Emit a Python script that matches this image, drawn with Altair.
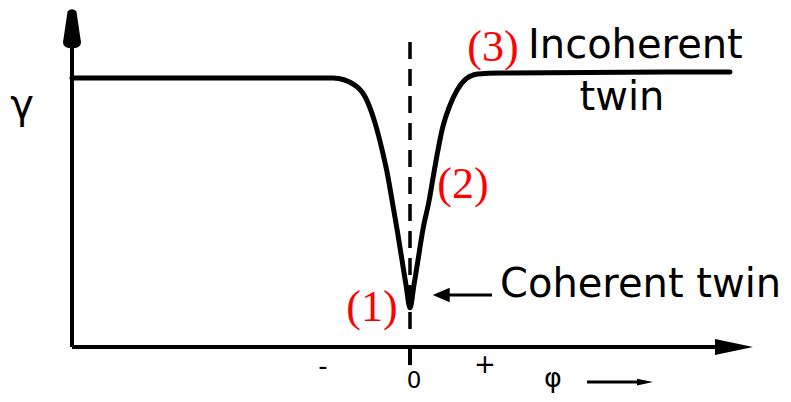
import altair as alt
import pandas as pd

# ---- data (schematic) ----
curve_phi = [-4.225, -0.96, -0.69, -0.56, -0.44, -0.34, -0.275, -0.225, -0.16, -0.1, -0.05, 0.0,
             0.05, 0.1, 0.16, 0.24, 0.29, 0.35, 0.41, 0.5, 0.59, 0.7, 0.85, 1.125, 4.0]
curve_gamma = [0.996, 0.996, 0.97, 0.926, 0.833, 0.719, 0.63, 0.544, 0.433, 0.322, 0.23, 0.145,
               0.23, 0.322, 0.433, 0.544, 0.63, 0.73, 0.815, 0.896, 0.952, 0.993, 1.011, 1.015, 1.019]

# axis lines (phi, gamma) -> (phi2, gamma2)
axis_phi = [-4.225, -4.225, 0.0]
axis_gamma = [0.0, 0.0, 0.0]
axis_phi2 = [4.1, -4.225, 0.0]
axis_gamma2 = [0.0, 1.12, -0.067]

dash_phi = [0.0]
dash_gamma = [1.13]
dash_gamma2 = [0.056]

# small annotation arrows (shafts)
shaft_phi = [2.2125, 0.45]
shaft_phi2 = [2.9, 1.025]
shaft_gamma = [-0.13, 0.193]

# arrow heads
head_right_phi = [4.05, 2.9375]
head_right_gamma = [0.0, -0.13]
head_right_size = [1444, 256]
head_up_phi = [-4.225]
head_up_gamma = [1.181]
head_left_phi = [0.39]
head_left_gamma = [0.193]

# labels
label_text = ["Incoherent", "twin", "Coherent twin"]
label_phi = [1.475, 2.65, 1.125]
label_gamma = [1.07, 0.878, 0.185]
label_align = ["left", "center", "left"]

num_text = ["(3)", "(2)", "(1)"]
num_phi = [1.0375, 0.6625, -0.475]
num_gamma = [1.059, 0.552, 0.096]

tick_text = ["-", "+"]
tick_phi = [-1.0875, 0.9375]
tick_gamma = [-0.074, -0.067]

zero_text = ["0"]
zero_phi = [0.05]
zero_gamma = [-0.15]

greek_text = ["γ", "φ"]
greek_phi = [-4.85, 1.7875]
greek_gamma = [0.85, -0.148]
greek_size = [40, 27]

X_DOMAIN = [-5.025, 4.6625]
Y_DOMAIN = [-0.174, 1.2556]

xs = alt.Scale(domain=X_DOMAIN, nice=False, zero=False)
ys = alt.Scale(domain=Y_DOMAIN, nice=False, zero=False)
X = alt.X("phi:Q", scale=xs, axis=None)
Y = alt.Y("gamma:Q", scale=ys, axis=None)

curve = alt.Chart(pd.DataFrame({"phi": curve_phi, "gamma": curve_gamma})).mark_line(
    color="black", strokeWidth=5, interpolate="monotone", strokeCap="round", strokeJoin="round"
).encode(x=X, y=Y)

axes = alt.Chart(pd.DataFrame({"phi": axis_phi, "gamma": axis_gamma,
                               "phi2": axis_phi2, "gamma2": axis_gamma2})).mark_rule(
    color="black", strokeWidth=4
).encode(x=X, y=Y, x2="phi2:Q", y2="gamma2:Q")

dashed = alt.Chart(pd.DataFrame({"phi": dash_phi, "gamma": dash_gamma, "gamma2": dash_gamma2})).mark_rule(
    color="black", strokeWidth=3.5, strokeDash=[17, 10]
).encode(x=X, y=Y, y2="gamma2:Q")

shafts = alt.Chart(pd.DataFrame({"phi": shaft_phi, "phi2": shaft_phi2, "gamma": shaft_gamma})).mark_rule(
    color="black", strokeWidth=3
).encode(x=X, x2="phi2:Q", y=Y)

heads_right = alt.Chart(pd.DataFrame({"phi": head_right_phi, "gamma": head_right_gamma,
                                      "s": head_right_size})).mark_point(
    shape="M-1,-0.42 L1,0 L-1,0.42 Z", filled=True, color="black", opacity=1, strokeWidth=0
).encode(x=X, y=Y, size=alt.Size("s:Q", scale=None, legend=None))

head_up = alt.Chart(pd.DataFrame({"phi": head_up_phi, "gamma": head_up_gamma})).mark_point(
    shape="M-0.22,-0.85 Q0,-1.05 0.22,-0.85 L0.45,0.7 Q0.45,1 0,1 Q-0.45,1 -0.45,0.7 Z",
    filled=True, color="black", opacity=1, strokeWidth=0, size=1600
).encode(x=X, y=Y)

head_left = alt.Chart(pd.DataFrame({"phi": head_left_phi, "gamma": head_left_gamma})).mark_point(
    shape="M1,-0.85 L-1,0 L1,0.85 Z", filled=True, color="black", opacity=1, strokeWidth=0, size=289
).encode(x=X, y=Y)

lab_df = pd.DataFrame({"phi": label_phi, "gamma": label_gamma, "t": label_text, "a": label_align})
labels_left = alt.Chart(lab_df[lab_df.a == "left"]).mark_text(
    font="DejaVu Sans", fontSize=40, align="left", baseline="alphabetic", color="black"
).encode(x=X, y=Y, text="t:N")
labels_center = alt.Chart(lab_df[lab_df.a == "center"]).mark_text(
    font="DejaVu Sans", fontSize=40, align="center", baseline="alphabetic", color="black"
).encode(x=X, y=Y, text="t:N")

nums = alt.Chart(pd.DataFrame({"phi": num_phi, "gamma": num_gamma, "t": num_text})).mark_text(
    font="Liberation Serif", fontSize=44, align="center", baseline="alphabetic", color="#ff0000"
).encode(x=X, y=Y, text="t:N")

ticks = alt.Chart(pd.DataFrame({"phi": tick_phi, "gamma": tick_gamma, "t": tick_text})).mark_text(
    font="DejaVu Sans", fontSize=26, align="center", baseline="middle", color="black"
).encode(x=X, y=Y, text="t:N")

zero = alt.Chart(pd.DataFrame({"phi": zero_phi, "gamma": zero_gamma, "t": zero_text})).mark_text(
    font="DejaVu Sans", fontSize=23, align="center", baseline="alphabetic", color="black"
).encode(x=X, y=Y, text="t:N")

greek = alt.Chart(pd.DataFrame({"phi": greek_phi, "gamma": greek_gamma, "t": greek_text,
                                "fs": greek_size})).mark_text(
    font="DejaVu Sans", align="center", baseline="alphabetic", color="black"
).encode(x=X, y=Y, text="t:N", size=alt.Size("fs:Q", scale=None, legend=None))

chart = alt.layer(
    axes, dashed, curve, shafts, heads_right, head_up, head_left,
    labels_left, labels_center, nums, ticks, zero, greek
).properties(
    width=775, height=386, autosize=alt.AutoSizeParams(type="none"), padding=0,
    background="white"
).configure_view(stroke=None)

chart.save("out.html", embed_options={"renderer": "svg", "actions": False})
